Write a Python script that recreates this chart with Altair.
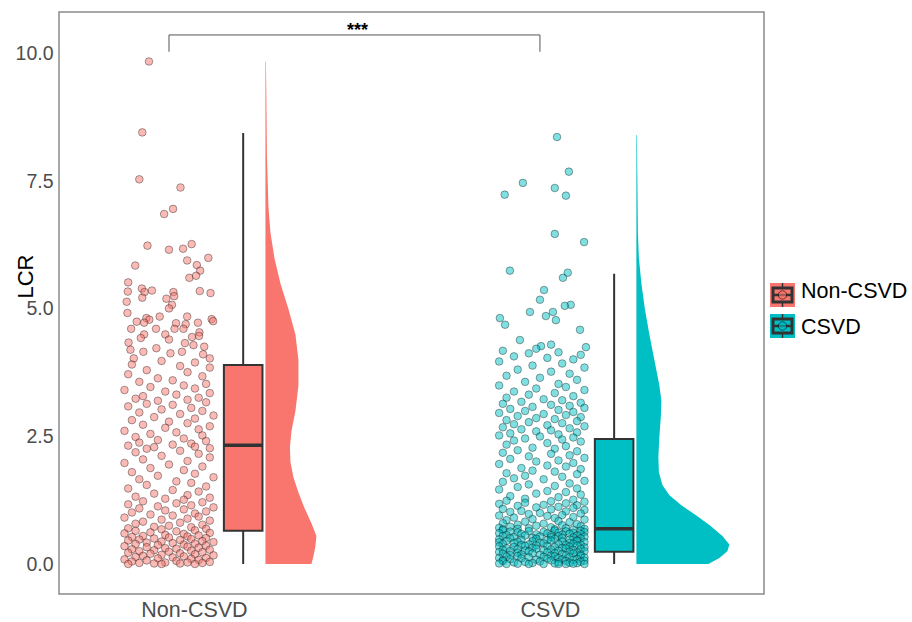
import altair as alt
import pandas as pd

GROUPS = ["Non-CSVD", "CSVD"]
COLORS = ["#F8766D", "#00BFC4"]
POSITIONS = [1, 2]
Y_TICKS = [0, 2.5, 5, 7.5, 10]
SIG_LABEL = "***"

# (LCR, horizontal jitter)
NON_CSVD_POINTS = [
    (9.85, -0.054), (8.46, -0.072), (7.54, -0.080), (7.38, 0.031), (6.86, -0.013), (6.96, 0.011),
    (6.24, -0.058), (6.16, 0.000), (6.18, 0.038), (6.27, 0.061), (5.85, -0.091), (5.95, 0.049),
    (5.86, 0.075), (6.00, 0.106), (5.75, 0.084), (5.61, 0.055), (5.65, 0.073), (5.52, -0.110),
    (5.40, -0.073), (5.33, -0.066), (5.36, -0.046), (5.34, -0.111), (5.22, -0.072), (5.33, 0.012),
    (5.25, 0.014), (5.20, -0.007), (5.35, 0.083), (5.31, 0.112), (5.14, -0.114), (5.08, 0.008),
    (5.01, 0.000), (4.92, -0.112), (4.85, -0.025), (4.85, 0.049), (4.75, -0.087), (4.82, -0.061),
    (4.79, -0.053), (4.73, -0.067), (4.80, 0.115), (4.76, 0.119), (4.72, 0.019), (4.70, 0.045),
    (4.73, 0.078), (4.61, -0.102), (4.61, -0.035), (4.61, 0.015), (4.61, 0.039), (4.50, -0.010),
    (4.54, 0.082), (4.50, -0.067), (4.43, -0.076), (4.34, -0.109), (4.40, 0.000), (4.45, 0.062),
    (4.47, 0.081), (4.26, 0.095), (4.33, 0.043), (4.29, 0.066), (4.20, -0.104), (4.16, -0.069),
    (4.23, -0.034), (4.13, 0.004), (4.16, 0.035), (4.11, 0.092), (4.03, 0.110), (4.03, -0.095),
    (3.98, -0.02), (3.95, 0.07), (3.91, -0.10), (3.88, 0.03), (3.85, 0.11), (3.80, -0.06),
    (3.76, 0.05), (3.72, -0.11), (3.68, 0.09), (3.64, -0.03), (3.60, 0.01), (3.57, -0.08),
    (3.53, 0.10), (3.50, 0.04), (3.47, -0.05), (3.44, 0.07), (3.41, -0.12), (3.38, -0.01),
    (3.35, 0.11), (3.32, 0.02), (3.29, -0.07), (3.26, 0.08), (3.24, -0.09), (3.22, 0.05),
    (3.20, -0.03), (3.17, 0.10), (3.14, -0.06), (3.12, 0.01), (3.09, -0.11), (3.06, 0.06),
    (3.03, -0.02), (3.00, 0.09), (2.97, -0.08), (2.94, 0.03), (2.91, 0.12), (2.88, -0.04),
    (2.85, 0.07), (2.82, -0.10), (2.79, 0.00), (2.76, 0.05), (2.73, -0.07), (2.70, 0.11),
    (2.67, -0.01), (2.64, 0.08), (2.61, -0.12), (2.58, 0.02), (2.55, -0.05), (2.52, 0.09),
    (2.49, -0.09), (2.46, 0.04), (2.43, -0.03), (2.41, 0.10), (2.38, -0.08), (2.36, 0.06),
    (2.34, 0.01), (2.32, -0.11), (2.30, 0.07), (2.29, -0.04), (2.27, 0.11), (2.26, -0.06),
    (2.22, 0.03), (2.19, -0.09), (2.16, 0.08), (2.12, -0.02), (2.09, 0.11), (2.05, -0.07),
    (2.02, 0.05), (1.98, -0.12), (1.95, 0.00), (1.91, 0.09), (1.88, -0.05), (1.84, 0.04),
    (1.80, -0.10), (1.77, 0.07), (1.73, -0.03), (1.70, 0.12), (1.66, -0.08), (1.62, 0.02),
    (1.59, 0.06), (1.55, -0.06), (1.52, 0.10), (1.48, -0.11), (1.45, 0.01), (1.42, 0.08),
    (1.38, -0.04), (1.35, 0.05), (1.32, -0.09), (1.30, 0.11), (1.28, -0.01), (1.26, 0.04),
    (1.23, -0.07), (1.21, 0.09), (1.19, 0.02), (1.17, -0.11), (1.15, 0.06), (1.13, -0.03),
    (1.11, 0.12), (1.09, -0.08), (1.07, 0.04), (1.05, -0.01), (1.03, 0.10), (1.01, -0.10),
    (0.99, 0.07), (0.97, -0.05), (0.95, 0.01), (0.93, 0.08), (0.91, -0.12), (0.89, 0.05),
    (0.87, -0.02), (0.85, 0.11), (0.83, -0.07), (0.81, 0.03), (0.79, -0.09), (0.77, 0.09),
    (0.75, 0.00), (0.73, -0.04), (0.72, 0.06), (0.70, -0.11), (0.69, 0.10), (0.68, -0.02),
    (0.66, 0.07), (0.65, -0.09), (0.64, 0.02), (0.62, -0.05), (0.61, 0.11), (0.60, -0.12),
    (0.59, 0.04), (0.57, -0.01), (0.56, 0.08), (0.55, -0.07), (0.54, 0.05), (0.53, -0.10),
    (0.52, 0.00), (0.51, 0.10), (0.50, -0.04), (0.49, 0.06), (0.48, -0.08), (0.47, 0.03),
    (0.46, -0.11), (0.45, 0.09), (0.44, -0.02), (0.43, 0.12), (0.42, -0.06), (0.41, 0.01),
    (0.40, 0.07), (0.39, -0.09), (0.38, 0.04), (0.37, -0.03), (0.36, 0.10), (0.35, -0.12),
    (0.34, 0.05), (0.33, -0.06), (0.32, 0.08), (0.31, -0.01), (0.30, 0.02), (0.29, -0.10),
    (0.28, 0.11), (0.27, -0.04), (0.26, 0.06), (0.25, -0.08), (0.24, 0.00), (0.23, 0.09),
    (0.22, -0.11), (0.21, 0.03), (0.20, -0.05), (0.19, 0.07), (0.18, -0.02), (0.17, 0.12),
    (0.16, -0.07), (0.15, 0.04), (0.14, -0.09), (0.13, 0.01), (0.12, 0.10), (0.11, -0.03),
    (0.10, 0.06), (0.09, -0.12), (0.08, 0.08), (0.07, -0.06), (0.06, 0.02), (0.05, -0.10),
    (0.04, 0.11), (0.03, -0.01), (0.03, 0.05), (0.02, -0.08), (0.02, 0.09), (0.01, -0.04),
    (0.01, 0.03), (0.00, -0.11), (0.00, 0.07), (0.00, -0.02),
]

CSVD_POINTS = [
    (8.37, 0.046), (7.69, 0.078), (7.47, -0.046), (7.37, 0.040), (7.24, -0.095), (7.22, 0.070),
    (6.47, 0.040), (6.31, 0.119), (5.75, -0.081), (5.71, 0.075), (5.61, 0.062), (5.37, 0.011),
    (5.18, 0.000), (5.08, 0.083), (5.06, 0.067), (4.94, 0.035), (4.94, -0.027), (4.86, 0.016),
    (4.82, -0.108), (4.78, 0.043), (4.69, -0.094), (4.59, 0.108), (4.39, -0.054), (4.30, 0.030),
    (4.27, 0.003), (4.25, 0.124), (4.22, -0.010),
    (4.18, -0.10), (4.15, 0.05), (4.13, -0.03), (4.10, 0.11), (4.07, -0.07), (4.04, 0.02),
    (4.01, 0.09), (3.97, -0.11), (3.93, 0.06), (3.89, -0.02), (3.85, 0.12), (3.81, -0.06),
    (3.77, 0.03), (3.73, 0.08), (3.69, -0.09), (3.65, 0.00), (3.61, 0.10), (3.57, -0.04),
    (3.53, 0.05), (3.50, -0.11), (3.47, 0.07), (3.44, -0.01), (3.41, 0.12), (3.38, -0.07),
    (3.35, 0.04), (3.32, -0.03), (3.29, 0.09), (3.26, -0.09), (3.23, 0.01), (3.21, 0.06),
    (3.18, -0.05), (3.16, 0.11), (3.14, -0.10), (3.12, 0.03), (3.10, 0.08), (3.08, -0.02),
    (3.06, 0.12), (3.04, -0.08), (3.02, 0.05), (3.00, -0.04), (2.98, 0.09), (2.96, -0.11),
    (2.94, 0.01), (2.92, 0.07), (2.90, -0.06), (2.88, 0.11), (2.86, -0.01), (2.84, 0.04),
    (2.82, -0.09), (2.80, 0.10), (2.78, -0.03), (2.76, 0.06), (2.74, -0.07), (2.72, 0.02),
    (2.70, 0.12), (2.68, -0.10), (2.66, 0.08), (2.64, -0.05), (2.62, 0.03), (2.60, -0.01),
    (2.58, 0.10), (2.56, -0.08), (2.54, 0.05), (2.52, -0.11), (2.50, 0.00), (2.48, 0.09),
    (2.46, -0.04), (2.44, 0.06), (2.42, -0.07), (2.40, 0.11), (2.37, 0.02), (2.34, -0.09),
    (2.31, 0.07), (2.28, -0.02), (2.26, 0.04),
    (2.23, -0.06), (2.21, 0.10), (2.18, -0.10), (2.16, 0.03), (2.13, 0.08), (2.11, -0.03),
    (2.08, 0.12), (2.06, -0.08), (2.03, 0.05), (2.01, -0.01), (1.98, 0.09), (1.96, -0.11),
    (1.93, 0.02), (1.91, 0.07), (1.88, -0.05), (1.86, 0.11), (1.83, -0.02), (1.81, 0.04),
    (1.78, -0.09), (1.76, 0.10), (1.73, -0.04), (1.71, 0.06), (1.68, -0.07), (1.66, 0.01),
    (1.63, 0.12), (1.61, -0.10), (1.58, 0.08), (1.56, -0.03), (1.53, 0.04), (1.51, -0.06),
    (1.48, 0.10), (1.46, -0.11), (1.43, 0.02), (1.41, 0.07), (1.38, -0.01), (1.36, 0.11),
    (1.33, -0.08), (1.31, 0.05), (1.28, -0.04), (1.26, 0.09),
    (1.24, -0.09), (1.23, 0.03), (1.22, 0.12), (1.20, -0.04), (1.19, 0.07), (1.18, -0.11),
    (1.16, 0.01), (1.15, 0.10), (1.14, -0.06), (1.12, 0.05), (1.11, -0.01), (1.10, 0.09),
    (1.08, -0.10), (1.07, 0.03), (1.06, 0.12), (1.04, -0.05), (1.03, 0.07), (1.02, -0.08),
    (1.00, 0.00), (0.99, 0.11), (0.98, -0.03), (0.96, 0.06), (0.95, -0.11), (0.94, 0.02),
    (0.92, 0.09), (0.91, -0.07), (0.90, 0.04), (0.88, -0.02), (0.87, 0.12), (0.86, -0.09),
    (0.84, 0.05), (0.83, -0.04), (0.82, 0.08), (0.80, -0.10), (0.79, 0.01), (0.78, 0.10),
    (0.77, -0.06), (0.76, 0.06), (0.75, -0.01), (0.74, 0.11), (0.73, -0.08), (0.72, 0.03),
    (0.71, -0.11), (0.70, 0.07), (0.70, -0.03), (0.69, 0.12), (0.69, -0.06), (0.68, 0.04),
    (0.68, -0.10), (0.67, 0.09),
    (0.660, -0.10), (0.655, 0.04), (0.650, 0.11), (0.645, -0.03), (0.640, 0.07), (0.635, -0.08),
    (0.630, 0.01), (0.625, 0.12), (0.620, -0.06), (0.615, 0.05),
    (0.610, 0.09), (0.605, -0.11), (0.600, 0.02), (0.595, 0.08), (0.590, -0.05), (0.585, 0.11),
    (0.580, -0.01), (0.575, 0.06), (0.570, -0.09), (0.565, 0.03),
    (0.560, -0.04), (0.555, 0.10), (0.550, -0.10), (0.545, 0.05), (0.540, 0.00), (0.535, 0.12),
    (0.530, -0.07), (0.525, 0.03), (0.520, 0.09), (0.515, -0.02),
    (0.510, 0.06), (0.505, -0.08), (0.500, 0.11), (0.495, -0.01), (0.490, 0.04), (0.485, -0.11),
    (0.480, 0.08), (0.475, -0.05), (0.470, 0.02), (0.465, 0.10),
    (0.460, 0.03), (0.455, -0.09), (0.450, 0.10), (0.445, -0.02), (0.440, 0.06), (0.435, -0.06),
    (0.430, 0.12), (0.425, -0.11), (0.420, 0.00), (0.415, 0.08),
    (0.410, -0.07), (0.405, 0.01), (0.400, 0.09), (0.395, -0.10), (0.390, 0.05), (0.385, -0.03),
    (0.380, 0.11), (0.375, -0.05), (0.370, 0.07), (0.365, -0.01),
    (0.360, 0.10), (0.355, -0.04), (0.350, 0.02), (0.345, -0.11), (0.340, 0.08), (0.335, -0.07),
    (0.330, 0.04), (0.325, 0.12), (0.320, -0.02), (0.315, 0.06),
    (0.310, -0.09), (0.305, 0.07), (0.300, -0.01), (0.295, 0.11), (0.290, -0.06), (0.285, 0.03),
    (0.280, -0.10), (0.275, 0.09), (0.270, 0.01), (0.265, -0.04),
    (0.260, 0.05), (0.255, -0.08), (0.250, 0.12), (0.245, -0.03), (0.240, 0.08), (0.235, -0.11),
    (0.230, 0.02), (0.225, 0.10), (0.220, -0.06), (0.215, 0.04),
    (0.210, -0.02), (0.205, 0.09), (0.200, -0.10), (0.195, 0.06), (0.190, -0.05), (0.185, 0.11),
    (0.180, 0.00), (0.175, -0.08), (0.170, 0.07), (0.165, 0.03),
    (0.160, 0.11), (0.155, -0.06), (0.150, 0.04), (0.145, -0.09), (0.140, 0.01), (0.135, 0.08),
    (0.130, -0.03), (0.125, 0.12), (0.120, -0.11), (0.115, 0.05),
    (0.110, -0.05), (0.105, 0.02), (0.100, 0.10), (0.095, -0.08), (0.090, 0.06), (0.085, -0.01),
    (0.080, 0.09), (0.075, -0.10), (0.070, 0.03), (0.065, 0.12),
    (0.060, 0.07), (0.055, -0.10), (0.050, 0.00), (0.045, 0.11), (0.040, -0.04), (0.035, 0.05),
    (0.030, -0.07), (0.025, 0.08), (0.020, -0.02), (0.015, 0.10),
    (0.010, -0.11), (0.010, 0.04), (0.005, 0.09), (0.005, -0.06), (0.000, 0.01), (0.000, 0.12),
    (0.000, -0.03), (0.000, 0.07), (0.000, -0.09), (0.000, 0.05),
]

# boxplot statistics (low whisker, Q1, median, Q3, high whisker)
BOX_LOW = [0.0, 0.0]
BOX_Q1 = [0.65, 0.24]
BOX_MED = [2.33, 0.69]
BOX_Q3 = [3.90, 2.45]
BOX_HIGH = [8.45, 5.69]

# half-violin density profiles (LCR, relative density)
VIO_NON_LCR = [9.85, 9.0, 8.0, 7.0, 6.5, 6.0, 5.5, 5.0, 4.5, 4.0, 3.5, 3.0, 2.6, 2.3, 2.0, 1.7,
               1.4, 1.1, 0.8, 0.55, 0.35, 0.15, 0.0]
VIO_NON_DEN = [0.5, 1.0, 1.5, 3.0, 5.0, 9.0, 15.0, 23.0, 30.0, 33.0, 33.0, 30.0, 26.0, 24.5, 25.0,
               28.0, 33.0, 39.0, 46.0, 51.0, 50.0, 48.0, 46.0]
VIO_CSVD_LCR = [8.41, 7.5, 6.5, 6.0, 5.5, 5.0, 4.5, 4.0, 3.5, 3.2, 2.9, 2.5, 2.1, 1.8, 1.55, 1.35,
                1.15, 0.95, 0.75, 0.55, 0.38, 0.25, 0.12, 0.0]
VIO_CSVD_DEN = [0.5, 1.0, 1.5, 2.5, 5.0, 8.5, 13.0, 18.0, 23.0, 25.0, 24.5, 23.0, 22.0, 22.5, 26.0,
                33.0, 45.0, 60.0, 74.0, 86.0, 93.0, 91.0, 83.0, 72.0]

# bracket for the significance label
BRACKET_TOP = 10.37
BRACKET_END = 10.04
SIG_Y = 10.35

FONT = "Liberation Sans"
DEN_SCALE = 1 / 371
BOX_SHIFT = 0.2
BOX_HALF = 0.052
VIO_SHIFT = 0.26

xs = alt.Scale(domain=[0.7035, 2.604], nice=False, zero=False)
ys = alt.Scale(domain=[-0.588, 10.82], nice=False, zero=False)
fill_scale = alt.Scale(domain=GROUPS, range=COLORS)

label_expr = f"datum.value == 1 ? '{GROUPS[0]}' : '{GROUPS[1]}'"
x_axis = alt.Axis(values=POSITIONS, labelExpr=label_expr, title=None, grid=False, domain=False,
                  ticks=False, labelFontSize=21.5, labelColor="#4d4d4d", labelFont=FONT,
                  labelPadding=5,
                  labelOffset={"condition": {"test": "datum.value == 1", "value": 25}, "value": 10})
y_axis = alt.Axis(values=Y_TICKS, format=".1f", title="LCR", grid=False, domain=False, ticks=False,
                  labelFontSize=19.5, labelColor="#4d4d4d", labelFont=FONT, labelPadding=6,
                  titleFont=FONT, titleFontSize=22, titleFontWeight="normal", titleColor="black",
                  titleX=-27, titleY=264, titleAngle=270, titleAlign="center", titleBaseline="alphabetic")


def X(field):
    return alt.X(field, scale=xs, axis=x_axis)


def Y(field):
    return alt.Y(field, scale=ys, axis=y_axis)


# points
rows = []
for g, p, pts in [(GROUPS[0], POSITIONS[0], NON_CSVD_POINTS), (GROUPS[1], POSITIONS[1], CSVD_POINTS)]:
    for v, j in pts:
        rows.append({"group": g, "pos": p, "lcr": v, "jit": j})
pts_df = pd.DataFrame(rows)

points = alt.Chart(pts_df).transform_calculate(px="datum.pos + datum.jit").mark_point(
    filled=True, size=58, fillOpacity=0.5, stroke="black", strokeOpacity=0.6, strokeWidth=0.6
).encode(
    x=X("px:Q"), y=Y("lcr:Q"),
    fill=alt.Fill("group:N", scale=fill_scale, legend=None),
)

# violins
vrows = []
for g, p, ly, dn in [(GROUPS[0], POSITIONS[0], VIO_NON_LCR, VIO_NON_DEN),
                     (GROUPS[1], POSITIONS[1], VIO_CSVD_LCR, VIO_CSVD_DEN)]:
    for v, d in zip(ly, dn):
        vrows.append({"group": g, "pos": p, "lcr": v, "den": d})
vio_df = pd.DataFrame(vrows)

violins = alt.Chart(vio_df).transform_calculate(
    x0=f"datum.pos + {VIO_SHIFT}", x1=f"datum.pos + {VIO_SHIFT} + datum.den * {DEN_SCALE}"
).mark_area(orient="horizontal", opacity=1).encode(
    y=Y("lcr:Q"), x=X("x0:Q"), x2="x1:Q",
    fill=alt.Fill("group:N", scale=fill_scale, legend=None),
)

# boxplots
box_df = pd.DataFrame({"group": GROUPS, "pos": POSITIONS, "lo": BOX_LOW, "q1": BOX_Q1,
                       "med": BOX_MED, "q3": BOX_Q3, "hi": BOX_HIGH})
box_base = alt.Chart(box_df).transform_calculate(
    bc=f"datum.pos + {BOX_SHIFT}",
    bx0=f"datum.pos + {BOX_SHIFT - BOX_HALF}",
    bx1=f"datum.pos + {BOX_SHIFT + BOX_HALF}",
)
whiskers = box_base.mark_rule(color="#333333", strokeWidth=2).encode(
    x=X("bc:Q"), y=Y("lo:Q"), y2="hi:Q")
boxes = box_base.mark_rect(stroke="#333333", strokeWidth=2).encode(
    x=X("bx0:Q"), x2="bx1:Q", y=Y("q1:Q"), y2="q3:Q",
    fill=alt.Fill("group:N", scale=fill_scale, legend=None))
medians = box_base.mark_rule(color="#333333", strokeWidth=3.5).encode(
    x=X("bx0:Q"), x2="bx1:Q", y=Y("med:Q"))

# significance bracket
br_df = pd.DataFrame({"x": [POSITIONS[0]], "x2": [POSITIONS[1]], "y": [BRACKET_TOP]})
br_h = alt.Chart(br_df).mark_rule(color="#555555", strokeWidth=1).encode(
    x=X("x:Q"), x2="x2:Q", y=Y("y:Q"))
brv_df = pd.DataFrame({"x": POSITIONS, "y": [BRACKET_END] * 2, "y2": [BRACKET_TOP] * 2})
br_v = alt.Chart(brv_df).mark_rule(color="#555555", strokeWidth=1).encode(
    x=X("x:Q"), y=Y("y:Q"), y2="y2:Q")
sig_df = pd.DataFrame({"x": [(POSITIONS[0] + POSITIONS[1]) / 2], "y": [SIG_Y], "t": [SIG_LABEL]})
sig = alt.Chart(sig_df).mark_text(fontSize=18, fontWeight="bold", font=FONT, color="black",
                                  baseline="alphabetic", dx=3).encode(
    x=X("x:Q"), y=Y("y:Q"), text="t:N")

# manual legend (pixel placement, outside the panel)
dummy = pd.DataFrame({"a": [0]})
legend_layers = []
KEY_TOPS = [271, 302]
LABEL_MID = [279.5, 315.5]
for i, (g, c) in enumerate(zip(GROUPS, COLORS)):
    t = KEY_TOPS[i]
    legend_layers.append(alt.Chart(dummy).mark_rect(color=c).encode(
        x=alt.value(711), x2=alt.value(736), y=alt.value(t), y2=alt.value(t + 24)))
    legend_layers.append(alt.Chart(dummy).mark_rule(color="#333333", strokeWidth=1.5).encode(
        x=alt.value(723.5), y=alt.value(t), y2=alt.value(t + 24)))
    legend_layers.append(alt.Chart(dummy).mark_rect(color=c, stroke="#333333", strokeWidth=3).encode(
        x=alt.value(714), x2=alt.value(733), y=alt.value(t + 5), y2=alt.value(t + 19)))
    legend_layers.append(alt.Chart(dummy).mark_rule(color="#333333", strokeWidth=2.5).encode(
        x=alt.value(714), x2=alt.value(733), y=alt.value(t + 12)))
    legend_layers.append(alt.Chart(dummy).mark_point(
        filled=True, size=70, fill=c, fillOpacity=0.6, stroke="black", strokeOpacity=0.7,
        strokeWidth=0.8).encode(x=alt.value(723.5), y=alt.value(t + 12)))
    legend_layers.append(alt.Chart(dummy).mark_text(
        text=g, align="left", baseline="middle", fontSize=21.5, font=FONT, color="black").encode(
        x=alt.value(742), y=alt.value(LABEL_MID[i])))

chart = alt.layer(
    points, violins, whiskers, boxes, medians, br_h, br_v, sig, *legend_layers
).properties(
    width=705, height=582,
    autosize=alt.AutoSizeParams(type="none"),
    padding={"left": 59, "top": 12, "right": 148, "bottom": 28},
    background="white",
).configure_view(stroke="#8a8a8a", strokeWidth=1.5)

chart.save("out.html", embed_options={"renderer": "svg", "actions": False})
